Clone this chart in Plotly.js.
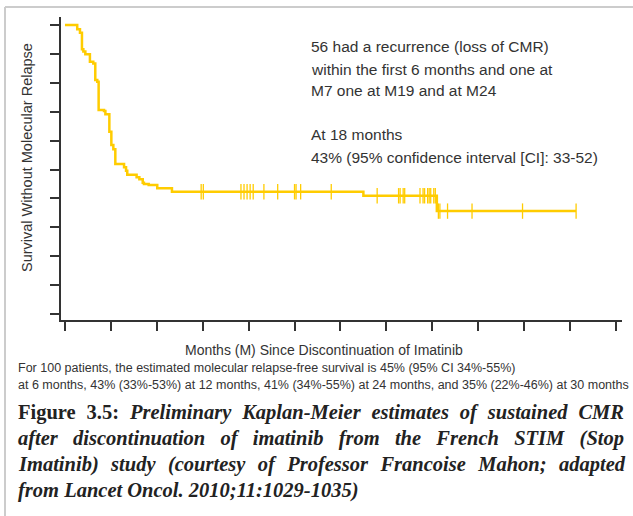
<!DOCTYPE html>
<html>
<head>
<meta charset="utf-8">
<script src="https://cdn.plot.ly/plotly-3.0.1.min.js"></script>
<style>
  html, body { margin: 0; padding: 0; background: #fff; }
  #chart { width: 633px; height: 516px; }
</style>
</head>
<body>
<div id="chart"></div>
<script>
// ---- data ----
const eventMonths = [0, 0.8, 0.98, 1.11, 1.2, 1.33, 1.63, 1.85, 1.98, 2.11, 2.2, 2.55, 2.64, 2.9, 3.03, 3.16, 3.29, 3.86, 3.99, 4.07, 4.68, 4.86, 5.08, 5.16, 5.47, 6.03, 6.99, 19.5, 24.3, 33.4];
const survivalPct = [100, 98.5, 97.3, 91.6, 90.8, 89.9, 87.3, 86.7, 81.0, 80.4, 70.6, 70.2, 69.1, 63.1, 58.5, 57.0, 51.9, 50.8, 49.6, 48.2, 47.3, 46.6, 45.4, 45.0, 44.6, 43.5, 42.3, 40.9, 35.6, 35.6];
const censorMonths = [8.9, 9.04, 11.5, 11.7, 11.9, 12.1, 12.3, 13.0, 13.9, 15.0, 15.1, 15.4, 17.4, 20.4, 21.8, 21.9, 22.1, 22.2, 23.2, 23.4, 23.5, 23.7, 23.8, 23.9, 24.1, 24.2, 24.4, 24.5, 25.0, 26.6, 29.9, 33.4];
const xTickMonths = [0, 3, 6, 9, 12, 15, 18, 21, 24, 27, 30, 33, 36];
const yTickPct = [0, 10, 20, 30, 40, 50, 60, 70, 80, 90, 100];

const noteLines = [
  "56 had a recurrence (loss of CMR)",
  "within the first 6 months and one at",
  "M7 one at M19 and at M24",
  "At 18 months",
  "43% (95% confidence interval [CI]: 33-52)"
];
const footLines = [
  "For 100 patients, the estimated molecular relapse-free survival is 45% (95% CI 34%-55%)",
  "at 6 months, 43% (33%-53%) at 12 months, 41% (34%-55%) at 24 months, and 35% (22%-46%) at 30 months"
];
const captionLines = [
  "<span style='font-style:normal'>Figure 3.5:</span> <i>Preliminary Kaplan-Meier estimates of sustained CMR</i>",
  "<i>after discontinuation of imatinib from the French STIM (Stop</i>",
  "<i>Imatinib) study (courtesy of Professor Francoise Mahon; adapted</i>",
  "<i>from Lancet Oncol. 2010;11:1029-1035)</i>"
];
const yTitle = "Survival Without Molecular Relapse";
const xTitle = "Months (M) Since Discontinuation of Imatinib";

// ---- layout helpers ----
const W = 633, H = 516, ML = 61, MR = 11, MT = 17, MB = 196;
const PW = W - ML - MR, PH = H - MT - MB;
const px = x => (x - ML) / PW;
const py = y => (H - MB - y) / PH;

function survAt(t) {
  let s = survivalPct[0];
  for (let i = 0; i < eventMonths.length; i++) { if (eventMonths[i] <= t) s = survivalPct[i]; }
  return s;
}

const GOLD = '#FFCC00';
const SANS = '"Liberation Sans", Arial, sans-serif';
const SERIF = '"Liberation Serif", "Times New Roman", serif';

const traces = [
  { x: eventMonths, y: survivalPct, mode: 'lines', line: { shape: 'hv', color: GOLD, width: 2.5 }, hoverinfo: 'skip', showlegend: false },
  { x: censorMonths, y: censorMonths.map(survAt), mode: 'markers',
    marker: { symbol: 'line-ns', size: 11, color: GOLD, line: { color: GOLD, width: 1.3 } }, hoverinfo: 'skip', showlegend: false }
];

const annotations = [];
const noteY = [47, 69, 91, 134, 157];
noteLines.forEach((t, i) => annotations.push({ xref: 'paper', yref: 'paper', x: px(309), y: py(noteY[i]), xanchor: 'left', yanchor: 'middle', text: t, showarrow: false, font: { family: SANS, size: 15.5, color: '#333' } }));
annotations.push({ xref: 'paper', yref: 'paper', x: px(27), y: py(158), xanchor: 'center', yanchor: 'middle', text: yTitle, textangle: -90, showarrow: false, font: { family: SANS, size: 14.5, color: '#333' } });
annotations.push({ xref: 'paper', yref: 'paper', x: px(324), y: py(350), xanchor: 'center', yanchor: 'middle', text: xTitle, showarrow: false, font: { family: SANS, size: 14, color: '#333' } });
const footY = [368, 385];
footLines.forEach((t, i) => annotations.push({ xref: 'paper', yref: 'paper', x: px(16), y: py(footY[i]), xanchor: 'left', yanchor: 'middle', text: t, showarrow: false, font: { family: SANS, size: 12.5, color: '#333' } }));
const capY = [412, 438, 464, 490];
captionLines.forEach((t, i) => annotations.push({ xref: 'paper', yref: 'paper', x: px(16), y: py(capY[i]), xanchor: 'left', yanchor: 'middle', text: t, showarrow: false, align: 'left', font: { family: SERIF, size: 20.5, color: '#222', weight: 'bold' } }));

const layout = {
  width: W, height: H,
  margin: { l: ML, r: MR, t: MT, b: MB },
  paper_bgcolor: '#fff', plot_bgcolor: '#fff',
  xaxis: { range: [-0.26, 36.4], tickvals: xTickMonths, showticklabels: false, ticks: 'outside', ticklen: 9, tickwidth: 2, tickcolor: '#333', showline: true, linecolor: '#333', linewidth: 2, showgrid: false, zeroline: false, fixedrange: true },
  yaxis: { range: [-2.08, 102.77], tickvals: yTickPct, showticklabels: false, ticks: 'outside', ticklen: 9, tickwidth: 2, tickcolor: '#333', showline: true, linecolor: '#333', linewidth: 2, showgrid: false, zeroline: false, fixedrange: true },
  shapes: [
    { type: 'line', xref: 'paper', yref: 'paper', x0: px(5), x1: px(640), y0: py(7), y1: py(7), line: { color: '#ccc', width: 2 } },
    { type: 'line', xref: 'paper', yref: 'paper', x0: px(5), x1: px(5), y0: py(7), y1: py(520), line: { color: '#ccc', width: 2 } }
  ],
  annotations: annotations
};

Plotly.newPlot('chart', traces, layout, { displayModeBar: false, staticPlot: true }).then(gd => {
  // justify the first three caption lines to the caption width
  const targetRight = 622;
  const firstCap = annotations.length - captionLines.length;
  for (let i = 0; i < 3; i++) {
    const g = gd.querySelector('.annotation[data-index="' + (firstCap + i) + '"] text.annotation-text');
    if (!g) continue;
    const len = g.getComputedTextLength();
    const words = g.textContent.split(' ').length - 1;
    const extra = (targetRight - 16 - len) / words;
    g.style.wordSpacing = extra + 'px';
  }
});
</script>
</body>
</html>
